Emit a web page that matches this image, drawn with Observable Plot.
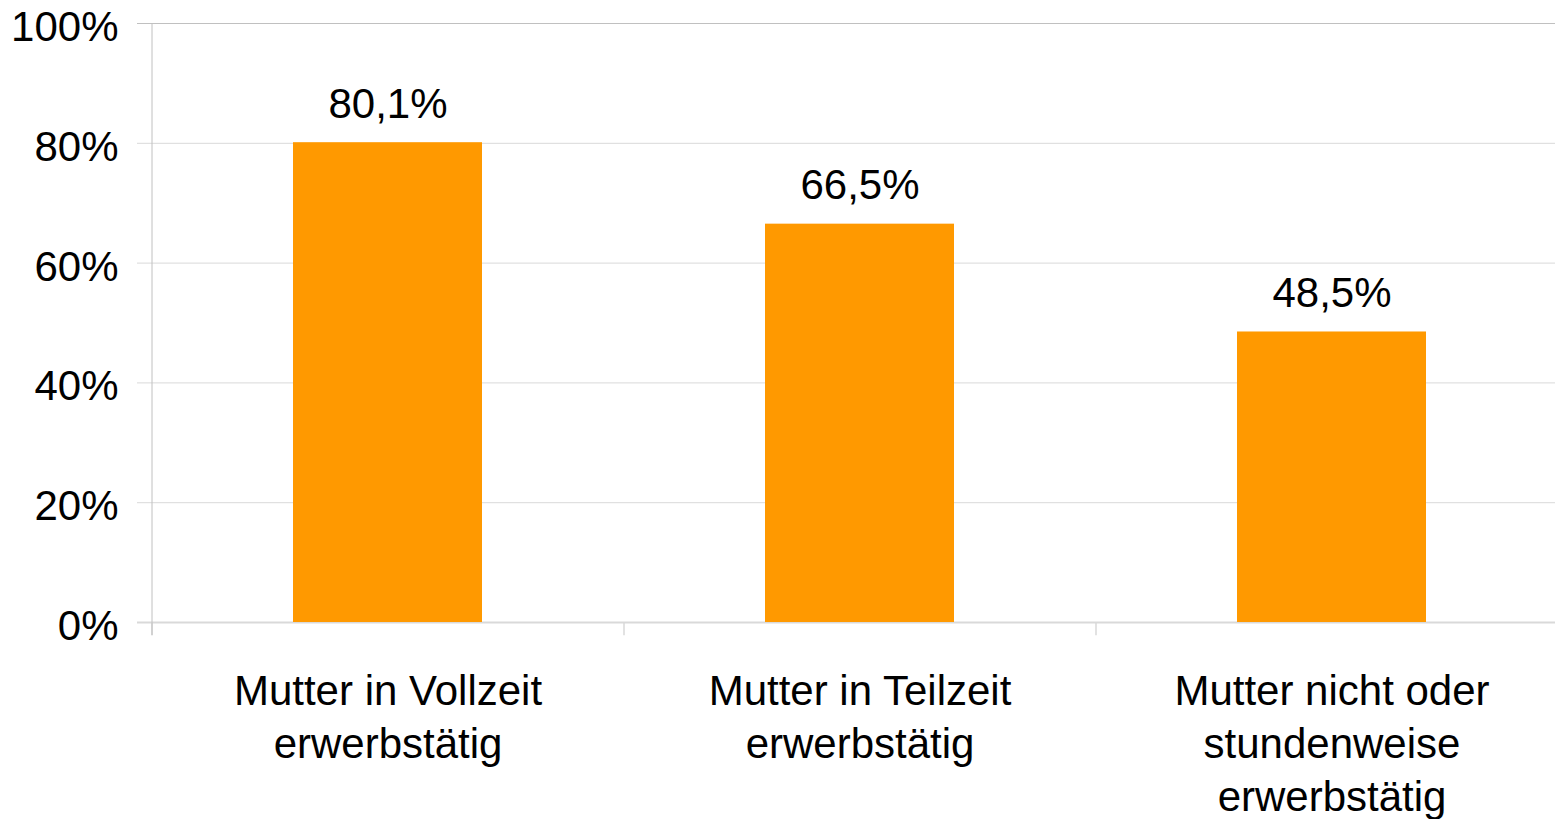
<!DOCTYPE html>
<html>
<head>
<meta charset="utf-8">
<script src="https://cdn.jsdelivr.net/npm/d3@7"></script>
<script src="https://cdn.jsdelivr.net/npm/@observablehq/plot@0.6"></script>
<style>
  html, body { margin: 0; padding: 0; background: #ffffff; }
  #chart svg { display: block; }
</style>
</head>
<body>
<div id="chart"></div>
<script>
const categories = [
  "Mutter in Vollzeit erwerbstätig",
  "Mutter in Teilzeit erwerbstätig",
  "Mutter nicht oder stundenweise erwerbstätig"
];
const categoryLabels = [
  "Mutter in Vollzeit\nerwerbstätig",
  "Mutter in Teilzeit\nerwerbstätig",
  "Mutter nicht oder\nstundenweise\nerwerbstätig"
];
const values = [80.1, 66.5, 48.5];
const valueLabels = ["80,1%", "66,5%", "48,5%"];
const yTicks = [0, 20, 40, 60, 80, 100];
const yTickLabels = ["0%", "20%", "40%", "60%", "80%", "100%"];

const data = categories.map((c, i) => ({
  cat: c, value: values[i], label: valueLabels[i], catLabel: categoryLabels[i]
}));

const W = 1555, H = 819;
const ML = 151, MT = 23, MB = 197;
const step = 472;

const chart = Plot.plot({
  width: W,
  height: H,
  marginLeft: ML,
  marginRight: 0,
  marginTop: MT,
  marginBottom: MB,
  style: { fontFamily: "'Liberation Sans', Arial, sans-serif", background: "#ffffff", color: "#000000" },
  x: { type: "band", domain: categories, range: [ML, ML + 3 * step], paddingInner: 0.6, paddingOuter: 0.3, axis: null },
  y: { domain: [0, 100] },
  marks: [
    Plot.ruleY(yTicks.filter(d => d > 0 && d < 100), { y: d => d, stroke: "#d9d9d9", strokeWidth: 1, insetLeft: -14 }),
    Plot.ruleY([100], { y: d => d, stroke: "#c0c0c0", strokeWidth: 1, insetLeft: -14 }),
    Plot.ruleY([0], { y: d => d, stroke: "#d9d9d9", strokeWidth: 2, insetLeft: -14 }),
    Plot.ruleX(categories, { x: d => d, dx: -step / 2, y1: 0, y2: -2.2, stroke: "#d9d9d9", strokeWidth: 1.5 }),
    Plot.ruleX([categories[0]], { x: d => d, dx: -step / 2, y1: 100, y2: -2.2, stroke: "#c0c0c0", strokeWidth: 1 }),
    Plot.barY(data, { x: "cat", y: "value", fill: "#ff9900" }),
    Plot.text(data, { x: "cat", y: "value", text: "label", lineAnchor: "bottom", dy: -25, fontSize: 42, fill: "#000000" }),
    Plot.text(data, { x: "cat", y: () => 0, text: "catLabel", lineAnchor: "top", lineHeight: 1.26, dy: 45, fontSize: 42, fill: "#000000" }),
    Plot.axisY(yTicks, { tickSize: 0, tickPadding: 33, tickFormat: (d) => yTickLabels[yTicks.indexOf(d)], fontSize: 42, dy: 4, fill: "#000000", label: null })
  ]
});

document.getElementById("chart").appendChild(chart);
</script>
</body>
</html>
